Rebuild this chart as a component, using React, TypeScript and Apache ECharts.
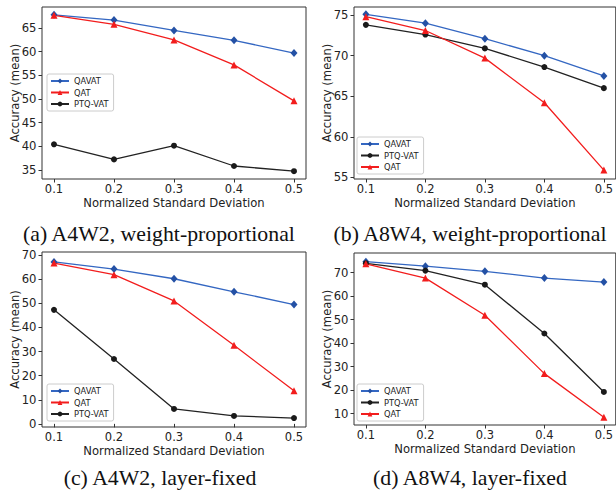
import React, { useEffect, useRef } from "react";
import * as echarts from "echarts";

const xValues = [0.1, 0.2, 0.3, 0.4, 0.5];
const xTicks = [0.1, 0.2, 0.3, 0.4, 0.5];

// (a) A4W2, weight-proportional
const qavatA = [67.8, 66.7, 64.5, 62.4, 59.7];
const qatA = [67.7, 65.8, 62.5, 57.2, 49.6];
const ptqA = [40.4, 37.2, 40.1, 35.8, 34.7];
const yTicksA = [35, 40, 45, 50, 55, 60, 65];

// (b) A8W4, weight-proportional
const qavatB = [75.1, 74.0, 72.1, 70.0, 67.5];
const ptqB = [73.8, 72.6, 70.9, 68.6, 66.0];
const qatB = [74.8, 73.1, 69.7, 64.2, 55.9];
const yTicksB = [55, 60, 65, 70, 75];

// (c) A4W2, layer-fixed
const qavatC = [67.2, 64.2, 60.2, 54.8, 49.5];
const qatC = [66.7, 61.9, 51.0, 32.6, 13.7];
const ptqC = [47.3, 26.9, 6.2, 3.3, 2.4];
const yTicksC = [0, 10, 20, 30, 40, 50, 60, 70];

// (d) A8W4, layer-fixed
const qavatD = [74.7, 72.8, 70.6, 67.7, 66.0];
const ptqD = [74.0, 70.9, 64.9, 44.1, 19.2];
const qatD = [73.8, 67.7, 51.9, 27.0, 8.4];
const yTicksD = [10, 20, 30, 40, 50, 60, 70];

const captions = [
  "(a) A4W2, weight-proportional",
  "(b) A8W4, weight-proportional",
  "(c) A4W2, layer-fixed",
  "(d) A8W4, layer-fixed",
];

const SANS = '"DejaVu Sans", sans-serif';
const TEXT = "#222";
const FRAME = "#333";

const styles: Record<string, any> = {
  QAVAT: { symbol: "diamond", size: [7, 8], line: "#3467c2", mark: "#2451a5" },
  QAT: { symbol: "triangle", size: 7, line: "#f21d1d", mark: "#f21d1d" },
  "PTQ-VAT": { symbol: "circle", size: 6, line: "#222", mark: "#1a1a1a" },
};

export default function App() {
  const ref = useRef<HTMLDivElement>(null);
  useEffect(() => {
    const chart = echarts.init(ref.current!, null, { renderer: "svg" });

    const panels = [
      { grid: { left: 42, top: 7, width: 264, height: 172 }, yr: [33.05, 69.46], yt: yTicksA,
        series: [["QAVAT", qavatA], ["QAT", qatA], ["PTQ-VAT", ptqA]],
        legend: { left: 47, top: 74 } },
      { grid: { left: 354, top: 7, width: 264, height: 172 }, yr: [54.8, 76.0], yt: yTicksB,
        series: [["QAVAT", qavatB], ["PTQ-VAT", ptqB], ["QAT", qatB]],
        legend: { left: 357, top: 137 } },
      { grid: { left: 42, top: 252, width: 264, height: 175 }, yr: [-1.3, 71.3], yt: yTicksC,
        series: [["QAVAT", qavatC], ["QAT", qatC], ["PTQ-VAT", ptqC]],
        legend: { left: 47, top: 384 } },
      { grid: { left: 354, top: 253, width: 264, height: 172 }, yr: [5.1, 78.4], yt: yTicksD,
        series: [["QAVAT", qavatD], ["PTQ-VAT", ptqD], ["QAT", qatD]],
        legend: { left: 357, top: 384 } },
    ];

    const grid: any[] = [];
    const xAxis: any[] = [];
    const yAxis: any[] = [];
    const series: any[] = [];
    const legend: any[] = [];
    const graphic: any[] = [];

    panels.forEach((p, i) => {
      grid.push({ ...p.grid, show: true, borderColor: FRAME, borderWidth: 1, backgroundColor: "transparent" });
      xAxis.push({
        type: "value", gridIndex: i, min: 0.08, max: 0.52,
        axisLine: { show: false },
        axisTick: { show: true, length: 3.5, lineStyle: { color: FRAME }, customValues: xTicks },
        axisLabel: { color: TEXT, fontFamily: SANS, fontSize: 11.5, margin: 3.5,
          customValues: xTicks, formatter: (v: number) => v.toFixed(1) },
        splitLine: { show: false },
        name: "Normalized Standard Deviation", nameLocation: "middle", nameGap: 17.5,
        nameMoveOverlap: false,
        nameTextStyle: { color: TEXT, fontFamily: SANS, fontSize: 11.6 },
      });
      yAxis.push({
        type: "value", gridIndex: i, min: p.yr[0], max: p.yr[1],
        axisLine: { show: false },
        axisTick: { show: true, length: 3.5, lineStyle: { color: FRAME }, customValues: p.yt },
        axisLabel: { color: TEXT, fontFamily: SANS, fontSize: 11.6, margin: 5.5, customValues: p.yt },
        splitLine: { show: false },
        name: "Accuracy (mean)", nameLocation: "middle", nameGap: 21.5,
        nameMoveOverlap: false,
        nameTextStyle: { color: TEXT, fontFamily: SANS, fontSize: 11.6 },
      });
      p.series.forEach(([name, vals]: any) => {
        const s = styles[name];
        series.push({
          type: "line", name, xAxisIndex: i, yAxisIndex: i,
          data: (vals as number[]).map((v, k) => [xValues[k], v]),
          symbol: s.symbol, symbolSize: s.size,
          lineStyle: { color: s.line, width: 1.3 },
          itemStyle: { color: s.mark },
          emphasis: { disabled: true },
        });
      });
      legend.push({
        data: p.series.map((s: any) => s[0]),
        orient: "vertical", left: p.legend.left, top: p.legend.top,
        padding: [3, 5, 3, 3], itemGap: 3.5, itemWidth: 18, itemHeight: 6,
        borderColor: "#ccc", borderWidth: 1, borderRadius: 2,
        backgroundColor: "rgba(255,255,255,0.85)",
        textStyle: { color: TEXT, fontFamily: SANS, fontSize: 8.3, padding: [0, 0, 0, 0] },
        selectedMode: false,
      });
    });

    const capPos = [[159, 234], [470, 234], [160, 478], [470, 478]];
    captions.forEach((c, i) => {
      graphic.push({
        type: "text", x: capPos[i][0], y: capPos[i][1],
        style: { text: c, font: '21.8px "Liberation Serif", serif', fill: "#111",
          textAlign: "center", textVerticalAlign: "middle" },
      });
    });

    chart.setOption({ animation: false, backgroundColor: "#fff", grid, xAxis, yAxis, series, legend, graphic });
    return () => chart.dispose();
  }, []);

  return <div ref={ref} style={{ position: "fixed", left: 0, top: 0, width: 616, height: 494 }} />;
}
